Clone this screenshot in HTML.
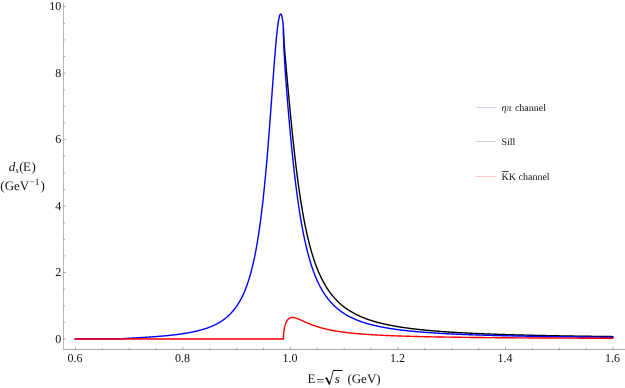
<!DOCTYPE html>
<html><head><meta charset="utf-8"><title>Sill distribution</title>
<style>
html,body{margin:0;padding:0;background:#fff;}
svg{display:block;}
text{font-family:"Liberation Serif",serif;fill:#111;text-rendering:geometricPrecision;}
.tk{font-size:12px;}
.lg{font-size:10px;}
.lb{font-size:13px;}
</style></head><body>
<svg width="625" height="388" viewBox="0 0 625 388">
<rect width="625" height="388" fill="#fff"/>
<defs><filter id="gs" x="0" y="0" width="625" height="388" filterUnits="userSpaceOnUse" color-interpolation-filters="sRGB"><feColorMatrix type="saturate" values="0"/></filter></defs>
<line x1="63.5" y1="3" x2="63.5" y2="350.0" stroke="#000" stroke-opacity="0.28" stroke-width="1"/>
<line x1="64.0" y1="349.5" x2="625" y2="349.5" stroke="#000" stroke-opacity="0.33" stroke-width="1"/>
<line x1="63.5" y1="339.00" x2="65.9" y2="339.00" stroke="#000" stroke-opacity="0.33" stroke-width="1"/>
<line x1="63.5" y1="322.38" x2="65.2" y2="322.38" stroke="#000" stroke-opacity="0.33" stroke-width="1"/>
<line x1="63.5" y1="305.77" x2="65.2" y2="305.77" stroke="#000" stroke-opacity="0.33" stroke-width="1"/>
<line x1="63.5" y1="289.15" x2="65.2" y2="289.15" stroke="#000" stroke-opacity="0.33" stroke-width="1"/>
<line x1="63.5" y1="272.54" x2="65.9" y2="272.54" stroke="#000" stroke-opacity="0.33" stroke-width="1"/>
<line x1="63.5" y1="255.93" x2="65.2" y2="255.93" stroke="#000" stroke-opacity="0.33" stroke-width="1"/>
<line x1="63.5" y1="239.31" x2="65.2" y2="239.31" stroke="#000" stroke-opacity="0.33" stroke-width="1"/>
<line x1="63.5" y1="222.69" x2="65.2" y2="222.69" stroke="#000" stroke-opacity="0.33" stroke-width="1"/>
<line x1="63.5" y1="206.08" x2="65.9" y2="206.08" stroke="#000" stroke-opacity="0.33" stroke-width="1"/>
<line x1="63.5" y1="189.47" x2="65.2" y2="189.47" stroke="#000" stroke-opacity="0.33" stroke-width="1"/>
<line x1="63.5" y1="172.85" x2="65.2" y2="172.85" stroke="#000" stroke-opacity="0.33" stroke-width="1"/>
<line x1="63.5" y1="156.24" x2="65.2" y2="156.24" stroke="#000" stroke-opacity="0.33" stroke-width="1"/>
<line x1="63.5" y1="139.62" x2="65.9" y2="139.62" stroke="#000" stroke-opacity="0.33" stroke-width="1"/>
<line x1="63.5" y1="123.01" x2="65.2" y2="123.01" stroke="#000" stroke-opacity="0.33" stroke-width="1"/>
<line x1="63.5" y1="106.39" x2="65.2" y2="106.39" stroke="#000" stroke-opacity="0.33" stroke-width="1"/>
<line x1="63.5" y1="89.78" x2="65.2" y2="89.78" stroke="#000" stroke-opacity="0.33" stroke-width="1"/>
<line x1="63.5" y1="73.16" x2="65.9" y2="73.16" stroke="#000" stroke-opacity="0.33" stroke-width="1"/>
<line x1="63.5" y1="56.55" x2="65.2" y2="56.55" stroke="#000" stroke-opacity="0.33" stroke-width="1"/>
<line x1="63.5" y1="39.93" x2="65.2" y2="39.93" stroke="#000" stroke-opacity="0.33" stroke-width="1"/>
<line x1="63.5" y1="23.32" x2="65.2" y2="23.32" stroke="#000" stroke-opacity="0.33" stroke-width="1"/>
<line x1="63.5" y1="6.70" x2="65.9" y2="6.70" stroke="#000" stroke-opacity="0.33" stroke-width="1"/>
<line x1="75.40" y1="349.5" x2="75.40" y2="347.1" stroke="#000" stroke-opacity="0.33" stroke-width="1"/>
<line x1="102.28" y1="349.5" x2="102.28" y2="347.8" stroke="#000" stroke-opacity="0.33" stroke-width="1"/>
<line x1="129.16" y1="349.5" x2="129.16" y2="347.8" stroke="#000" stroke-opacity="0.33" stroke-width="1"/>
<line x1="156.04" y1="349.5" x2="156.04" y2="347.8" stroke="#000" stroke-opacity="0.33" stroke-width="1"/>
<line x1="182.92" y1="349.5" x2="182.92" y2="347.1" stroke="#000" stroke-opacity="0.33" stroke-width="1"/>
<line x1="209.80" y1="349.5" x2="209.80" y2="347.8" stroke="#000" stroke-opacity="0.33" stroke-width="1"/>
<line x1="236.68" y1="349.5" x2="236.68" y2="347.8" stroke="#000" stroke-opacity="0.33" stroke-width="1"/>
<line x1="263.56" y1="349.5" x2="263.56" y2="347.8" stroke="#000" stroke-opacity="0.33" stroke-width="1"/>
<line x1="290.44" y1="349.5" x2="290.44" y2="347.1" stroke="#000" stroke-opacity="0.33" stroke-width="1"/>
<line x1="317.32" y1="349.5" x2="317.32" y2="347.8" stroke="#000" stroke-opacity="0.33" stroke-width="1"/>
<line x1="344.20" y1="349.5" x2="344.20" y2="347.8" stroke="#000" stroke-opacity="0.33" stroke-width="1"/>
<line x1="371.08" y1="349.5" x2="371.08" y2="347.8" stroke="#000" stroke-opacity="0.33" stroke-width="1"/>
<line x1="397.96" y1="349.5" x2="397.96" y2="347.1" stroke="#000" stroke-opacity="0.33" stroke-width="1"/>
<line x1="424.84" y1="349.5" x2="424.84" y2="347.8" stroke="#000" stroke-opacity="0.33" stroke-width="1"/>
<line x1="451.72" y1="349.5" x2="451.72" y2="347.8" stroke="#000" stroke-opacity="0.33" stroke-width="1"/>
<line x1="478.60" y1="349.5" x2="478.60" y2="347.8" stroke="#000" stroke-opacity="0.33" stroke-width="1"/>
<line x1="505.48" y1="349.5" x2="505.48" y2="347.1" stroke="#000" stroke-opacity="0.33" stroke-width="1"/>
<line x1="532.36" y1="349.5" x2="532.36" y2="347.8" stroke="#000" stroke-opacity="0.33" stroke-width="1"/>
<line x1="559.24" y1="349.5" x2="559.24" y2="347.8" stroke="#000" stroke-opacity="0.33" stroke-width="1"/>
<line x1="586.12" y1="349.5" x2="586.12" y2="347.8" stroke="#000" stroke-opacity="0.33" stroke-width="1"/>
<line x1="613.00" y1="349.5" x2="613.00" y2="347.1" stroke="#000" stroke-opacity="0.33" stroke-width="1"/>
<path d="M283.45,29.14 L283.50,32.09 L283.53,32.84 L283.56,33.52 L283.61,34.71 L283.67,35.77 L283.72,36.75 L283.77,37.67 L283.83,38.55 L283.88,39.40 L283.94,40.21 L283.98,40.84 L283.99,41.01 L284.04,41.78 L284.10,42.54 L284.15,43.29 L284.21,44.02 L284.26,44.74 L284.31,45.46 L284.37,46.16 L284.42,46.86 L284.43,46.91 L284.48,47.55 L284.53,48.23 L284.59,48.91 L284.64,49.58 L284.69,50.25 L284.75,50.91 L284.80,51.57 L284.86,52.23 L284.88,52.47 L284.91,52.88 L284.96,53.53 L285.02,54.18 L285.07,54.82 L285.13,55.46 L285.18,56.10 L285.23,56.74 L285.29,57.37 L285.32,57.79 L285.34,58.01 L285.40,58.64 L285.45,59.27 L285.50,59.89 L285.56,60.52 L285.61,61.15 L285.67,61.77 L285.72,62.39 L285.77,62.98 L285.77,63.01 L285.83,63.63 L285.88,64.25 L285.94,64.87 L285.99,65.49 L286.04,66.10 L286.10,66.72 L286.15,67.33 L286.21,67.95 L286.22,68.10 L286.26,68.56 L286.31,69.17 L286.37,69.78 L286.42,70.39 L286.48,71.00 L286.53,71.61 L286.58,72.22 L286.64,72.83 L286.67,73.15 L286.69,73.44 L286.75,74.04 L286.80,74.65 L286.85,75.25 L286.91,75.86 L286.96,76.46 L287.02,77.07 L287.07,77.67 L287.11,78.17 L287.12,78.27 L287.18,78.87 L287.23,79.48 L287.29,80.08 L287.34,80.68 L287.39,81.28 L287.45,81.88 L287.50,82.47 L287.56,83.07 L287.56,83.14 L287.61,83.67 L287.66,84.27 L287.72,84.86 L287.77,85.46 L287.83,86.05 L287.88,86.65 L287.93,87.24 L287.99,87.84 L288.01,88.08 L288.04,88.43 L288.10,89.02 L288.15,89.61 L288.20,90.20 L288.26,90.79 L288.31,91.38 L288.37,91.97 L288.42,92.56 L288.46,92.97 L288.47,93.15 L288.53,93.74 L288.58,94.32 L288.64,94.91 L288.69,95.49 L288.74,96.08 L288.80,96.66 L288.85,97.25 L288.91,97.82 L288.91,97.83 L288.96,98.41 L289.01,98.99 L289.07,99.57 L289.12,100.15 L289.18,100.73 L289.23,101.31 L289.28,101.89 L289.34,102.46 L289.35,102.63 L289.39,103.04 L289.45,103.62 L289.50,104.19 L289.55,104.77 L289.61,105.34 L289.66,105.91 L289.72,106.48 L289.77,107.05 L289.80,107.38 L289.82,107.62 L289.88,108.19 L289.93,108.76 L289.99,109.33 L290.04,109.89 L290.10,110.46 L290.15,111.03 L290.20,111.59 L290.25,112.08 L290.26,112.15 L290.31,112.72 L290.37,113.28 L290.42,113.84 L290.47,114.40 L290.53,114.96 L290.58,115.51 L290.64,116.07 L290.69,116.63 L290.70,116.72 L290.74,117.18 L290.80,117.74 L290.85,118.29 L290.91,118.84 L290.96,119.39 L291.01,119.94 L291.07,120.49 L291.12,121.04 L291.15,121.29 L291.18,121.59 L291.23,122.14 L291.28,122.68 L291.34,123.23 L291.39,123.77 L291.45,124.31 L291.50,124.85 L291.55,125.39 L291.59,125.79 L291.61,125.93 L291.66,126.47 L291.72,127.01 L291.77,127.55 L291.82,128.08 L291.88,128.62 L291.93,129.15 L291.99,129.68 L292.04,130.21 L292.04,130.23 L292.09,130.74 L292.15,131.27 L292.20,131.80 L292.26,132.33 L292.31,132.85 L292.36,133.38 L292.42,133.90 L292.47,134.42 L292.49,134.59 L292.53,134.94 L292.58,135.46 L292.63,135.98 L292.69,136.50 L292.74,137.02 L292.80,137.53 L292.85,138.05 L292.90,138.56 L292.94,138.88 L292.96,139.07 L293.01,139.59 L293.07,140.10 L293.12,140.61 L293.17,141.11 L293.23,141.62 L293.28,142.13 L293.34,142.63 L293.39,143.09 L293.39,143.13 L293.44,143.64 L293.50,144.14 L293.55,144.64 L293.61,145.13 L293.66,145.63 L293.71,146.13 L293.77,146.62 L293.82,147.12 L293.83,147.22 L293.88,147.61 L293.93,148.10 L293.98,148.59 L294.04,149.08 L294.09,149.57 L294.15,150.06 L294.20,150.54 L294.28,151.27 L294.73,155.23 L295.18,159.12 L295.62,162.92 L296.07,166.64 L296.52,170.28 L296.97,173.83 L297.42,177.30 L297.86,180.69 L298.31,184.00 L298.76,187.23 L299.21,190.38 L299.66,193.46 L300.10,196.46 L300.55,199.38 L301.00,202.23 L301.45,205.01 L301.90,207.72 L302.34,210.36 L302.79,212.94 L303.24,215.44 L303.69,217.89 L304.14,220.27 L304.58,222.59 L305.03,224.85 L305.48,227.05 L305.93,229.20 L306.38,231.29 L306.82,233.33 L307.27,235.32 L307.72,237.25 L308.17,239.14 L308.61,240.98 L309.06,242.77 L309.51,244.51 L309.96,246.22 L310.41,247.88 L310.85,249.50 L311.30,251.08 L311.75,252.62 L312.20,254.12 L312.65,255.58 L313.09,257.01 L313.54,258.41 L313.99,259.77 L314.44,261.09 L314.89,262.39 L315.33,263.65 L315.78,264.89 L316.23,266.10 L316.68,267.27 L317.12,268.42 L317.57,269.55 L318.02,270.64 L318.47,271.71 L318.92,272.76 L319.36,273.78 L319.81,274.78 L320.26,275.76 L320.71,276.72 L321.16,277.65 L321.60,278.56 L322.05,279.46 L322.50,280.33 L322.95,281.19 L323.40,282.02 L323.84,282.84 L324.29,283.64 L324.74,284.43 L325.19,285.19 L325.64,285.94 L326.08,286.68 L326.53,287.40 L326.98,288.10 L327.43,288.79 L327.88,289.47 L328.32,290.13 L328.77,290.78 L329.22,291.42 L329.67,292.04 L330.11,292.65 L330.56,293.25 L331.01,293.84 L331.46,294.42 L331.91,294.98 L332.35,295.53 L332.80,296.08 L333.25,296.61 L333.70,297.13 L334.15,297.65 L334.59,298.15 L335.04,298.64 L335.49,299.13 L335.94,299.60 L336.39,300.07 L336.83,300.53 L337.28,300.98 L337.73,301.42 L338.18,301.86 L338.63,302.28 L339.07,302.70 L339.52,303.11 L339.97,303.52 L340.42,303.91 L340.86,304.30 L341.31,304.69 L341.76,305.06 L342.21,305.43 L342.66,305.80 L343.10,306.16 L343.55,306.51 L344.00,306.86 L344.45,307.20 L344.90,307.53 L345.34,307.86 L345.79,308.18 L346.24,308.50 L346.69,308.82 L347.14,309.13 L347.58,309.43 L348.03,309.73 L348.48,310.02 L348.93,310.31 L349.37,310.60 L349.82,310.88 L350.27,311.15 L350.72,311.43 L351.17,311.69 L351.61,311.96 L352.06,312.22 L352.51,312.47 L352.96,312.72 L353.41,312.97 L353.85,313.22 L354.30,313.46 L354.75,313.70 L355.20,313.93 L355.65,314.16 L356.09,314.39 L356.54,314.61 L356.99,314.83 L357.44,315.05 L357.89,315.26 L358.33,315.47 L358.78,315.68 L359.23,315.89 L359.68,316.09 L360.12,316.29 L360.57,316.49 L361.02,316.68 L361.47,316.87 L361.92,317.06 L362.36,317.25 L362.81,317.43 L363.26,317.61 L363.71,317.79 L364.16,317.97 L364.60,318.14 L365.05,318.32 L365.50,318.49 L365.95,318.65 L366.40,318.82 L366.84,318.98 L367.29,319.14 L367.74,319.30 L368.19,319.46 L368.64,319.62 L369.08,319.77 L369.53,319.92 L369.98,320.07 L370.43,320.22 L370.87,320.36 L371.32,320.51 L371.77,320.65 L372.22,320.79 L372.67,320.93 L373.11,321.06 L373.56,321.20 L374.01,321.33 L374.46,321.46 L374.91,321.59 L375.35,321.72 L375.80,321.85 L376.25,321.98 L376.70,322.10 L377.15,322.22 L377.59,322.34 L378.04,322.46 L378.49,322.58 L378.94,322.70 L379.39,322.82 L379.83,322.93 L380.28,323.04 L380.73,323.16 L381.18,323.27 L381.62,323.38 L382.07,323.48 L382.52,323.59 L382.97,323.70 L383.42,323.80 L383.86,323.91 L384.31,324.01 L384.76,324.11 L385.21,324.21 L385.66,324.31 L386.10,324.41 L386.55,324.50 L387.00,324.60 L387.45,324.70 L387.90,324.79 L388.34,324.88 L388.79,324.97 L389.24,325.06 L389.69,325.15 L390.14,325.24 L390.58,325.33 L391.03,325.42 L391.48,325.51 L391.93,325.59 L392.38,325.68 L392.82,325.76 L393.27,325.84 L393.72,325.92 L394.17,326.01 L394.61,326.09 L395.06,326.17 L395.51,326.24 L395.96,326.32 L396.41,326.40 L396.85,326.48 L397.30,326.55 L397.75,326.63 L398.20,326.70 L398.65,326.77 L399.09,326.85 L399.54,326.92 L399.99,326.99 L400.44,327.06 L400.89,327.13 L401.33,327.20 L401.78,327.27 L402.23,327.34 L402.68,327.41 L403.12,327.47 L403.57,327.54 L404.02,327.60 L404.47,327.67 L404.92,327.73 L405.36,327.80 L405.81,327.86 L406.26,327.92 L406.71,327.98 L407.16,328.05 L407.60,328.11 L408.05,328.17 L408.50,328.23 L408.95,328.29 L409.40,328.35 L409.84,328.40 L410.29,328.46 L410.74,328.52 L411.19,328.58 L411.64,328.63 L412.08,328.69 L412.53,328.74 L412.98,328.80 L413.43,328.85 L413.88,328.91 L414.32,328.96 L414.77,329.01 L415.22,329.06 L415.67,329.12 L416.11,329.17 L416.56,329.22 L417.01,329.27 L417.46,329.32 L417.91,329.37 L418.35,329.42 L418.80,329.47 L419.25,329.52 L419.70,329.56 L420.15,329.61 L420.59,329.66 L421.04,329.71 L421.49,329.75 L421.94,329.80 L422.39,329.84 L422.83,329.89 L423.28,329.94 L423.73,329.98 L424.18,330.02 L424.62,330.07 L425.07,330.11 L425.52,330.16 L425.97,330.20 L426.42,330.24 L426.86,330.28 L427.31,330.33 L427.76,330.37 L428.21,330.41 L428.66,330.45 L429.10,330.49 L429.55,330.53 L430.00,330.57 L430.45,330.61 L430.90,330.65 L431.34,330.69 L431.79,330.73 L432.24,330.77 L432.69,330.80 L433.14,330.84 L433.58,330.88 L434.03,330.92 L434.48,330.95 L434.93,330.99 L435.38,331.03 L435.82,331.06 L436.27,331.10 L436.72,331.13 L437.17,331.17 L437.61,331.21 L438.06,331.24 L438.51,331.28 L438.96,331.31 L439.41,331.34 L439.85,331.38 L440.30,331.41 L440.75,331.44 L441.20,331.48 L441.65,331.51 L442.09,331.54 L442.54,331.58 L442.99,331.61 L443.44,331.64 L443.89,331.67 L444.33,331.70 L444.78,331.73 L445.23,331.77 L445.68,331.80 L446.13,331.83 L446.57,331.86 L447.02,331.89 L447.47,331.92 L447.92,331.95 L448.36,331.98 L448.81,332.01 L449.26,332.04 L449.71,332.07 L450.16,332.09 L450.60,332.12 L451.05,332.15 L451.50,332.18 L451.95,332.21 L452.40,332.24 L452.84,332.26 L453.29,332.29 L453.74,332.32 L454.19,332.35 L454.64,332.37 L455.08,332.40 L455.53,332.43 L455.98,332.45 L456.43,332.48 L456.88,332.50 L457.32,332.53 L457.77,332.56 L458.22,332.58 L458.67,332.61 L459.11,332.63 L459.56,332.66 L460.01,332.68 L460.46,332.71 L460.91,332.73 L461.35,332.76 L461.80,332.78 L462.25,332.80 L462.70,332.83 L463.15,332.85 L463.59,332.88 L464.04,332.90 L464.49,332.92 L464.94,332.95 L465.39,332.97 L465.83,332.99 L466.28,333.01 L466.73,333.04 L467.18,333.06 L467.63,333.08 L468.07,333.10 L468.52,333.13 L468.97,333.15 L469.42,333.17 L469.86,333.19 L470.31,333.21 L470.76,333.23 L471.21,333.26 L471.66,333.28 L472.10,333.30 L472.55,333.32 L473.00,333.34 L473.45,333.36 L473.90,333.38 L474.34,333.40 L474.79,333.42 L475.24,333.44 L475.69,333.46 L476.14,333.48 L476.58,333.50 L477.03,333.52 L477.48,333.54 L477.93,333.56 L478.38,333.58 L478.82,333.60 L479.27,333.62 L479.72,333.64 L480.17,333.65 L480.61,333.67 L481.06,333.69 L481.51,333.71 L481.96,333.73 L482.41,333.75 L482.85,333.77 L483.30,333.78 L483.75,333.80 L484.20,333.82 L484.65,333.84 L485.09,333.86 L485.54,333.87 L485.99,333.89 L486.44,333.91 L486.89,333.93 L487.33,333.94 L487.78,333.96 L488.23,333.98 L488.68,333.99 L489.13,334.01 L489.57,334.03 L490.02,334.04 L490.47,334.06 L490.92,334.08 L491.36,334.09 L491.81,334.11 L492.26,334.13 L492.71,334.14 L493.16,334.16 L493.60,334.17 L494.05,334.19 L494.50,334.21 L494.95,334.22 L495.40,334.24 L495.84,334.25 L496.29,334.27 L496.74,334.28 L497.19,334.30 L497.64,334.31 L498.08,334.33 L498.53,334.34 L498.98,334.36 L499.43,334.37 L499.88,334.39 L500.32,334.40 L500.77,334.42 L501.22,334.43 L501.67,334.45 L502.11,334.46 L502.56,334.48 L503.01,334.49 L503.46,334.50 L503.91,334.52 L504.35,334.53 L504.80,334.55 L505.25,334.56 L505.70,334.57 L506.15,334.59 L506.59,334.60 L507.04,334.61 L507.49,334.63 L507.94,334.64 L508.39,334.66 L508.83,334.67 L509.28,334.68 L509.73,334.69 L510.18,334.71 L510.63,334.72 L511.07,334.73 L511.52,334.75 L511.97,334.76 L512.42,334.77 L512.86,334.79 L513.31,334.80 L513.76,334.81 L514.21,334.82 L514.66,334.84 L515.10,334.85 L515.55,334.86 L516.00,334.87 L516.45,334.89 L516.90,334.90 L517.34,334.91 L517.79,334.92 L518.24,334.93 L518.69,334.95 L519.14,334.96 L519.58,334.97 L520.03,334.98 L520.48,334.99 L520.93,335.00 L521.38,335.02 L521.82,335.03 L522.27,335.04 L522.72,335.05 L523.17,335.06 L523.61,335.07 L524.06,335.08 L524.51,335.10 L524.96,335.11 L525.41,335.12 L525.85,335.13 L526.30,335.14 L526.75,335.15 L527.20,335.16 L527.65,335.17 L528.09,335.18 L528.54,335.19 L528.99,335.20 L529.44,335.22 L529.89,335.23 L530.33,335.24 L530.78,335.25 L531.23,335.26 L531.68,335.27 L532.13,335.28 L532.57,335.29 L533.02,335.30 L533.47,335.31 L533.92,335.32 L534.36,335.33 L534.81,335.34 L535.26,335.35 L535.71,335.36 L536.16,335.37 L536.60,335.38 L537.05,335.39 L537.50,335.40 L537.95,335.41 L538.40,335.42 L538.84,335.43 L539.29,335.44 L539.74,335.45 L540.19,335.46 L540.64,335.47 L541.08,335.48 L541.53,335.49 L541.98,335.50 L542.43,335.50 L542.88,335.51 L543.32,335.52 L543.77,335.53 L544.22,335.54 L544.67,335.55 L545.11,335.56 L545.56,335.57 L546.01,335.58 L546.46,335.59 L546.91,335.60 L547.35,335.60 L547.80,335.61 L548.25,335.62 L548.70,335.63 L549.15,335.64 L549.59,335.65 L550.04,335.66 L550.49,335.67 L550.94,335.67 L551.39,335.68 L551.83,335.69 L552.28,335.70 L552.73,335.71 L553.18,335.72 L553.62,335.73 L554.07,335.73 L554.52,335.74 L554.97,335.75 L555.42,335.76 L555.86,335.77 L556.31,335.77 L556.76,335.78 L557.21,335.79 L557.66,335.80 L558.10,335.81 L558.55,335.82 L559.00,335.82 L559.45,335.83 L559.90,335.84 L560.34,335.85 L560.79,335.85 L561.24,335.86 L561.69,335.87 L562.14,335.88 L562.58,335.89 L563.03,335.89 L563.48,335.90 L563.93,335.91 L564.38,335.92 L564.82,335.92 L565.27,335.93 L565.72,335.94 L566.17,335.95 L566.61,335.95 L567.06,335.96 L567.51,335.97 L567.96,335.98 L568.41,335.98 L568.85,335.99 L569.30,336.00 L569.75,336.01 L570.20,336.01 L570.65,336.02 L571.09,336.03 L571.54,336.03 L571.99,336.04 L572.44,336.05 L572.89,336.05 L573.33,336.06 L573.78,336.07 L574.23,336.08 L574.68,336.08 L575.12,336.09 L575.57,336.10 L576.02,336.10 L576.47,336.11 L576.92,336.12 L577.36,336.12 L577.81,336.13 L578.26,336.14 L578.71,336.14 L579.16,336.15 L579.60,336.16 L580.05,336.16 L580.50,336.17 L580.95,336.18 L581.40,336.18 L581.84,336.19 L582.29,336.20 L582.74,336.20 L583.19,336.21 L583.64,336.22 L584.08,336.22 L584.53,336.23 L584.98,336.23 L585.43,336.24 L585.88,336.25 L586.32,336.25 L586.77,336.26 L587.22,336.27 L587.67,336.27 L588.11,336.28 L588.56,336.28 L589.01,336.29 L589.46,336.30 L589.91,336.30 L590.35,336.31 L590.80,336.32 L591.25,336.32 L591.70,336.33 L592.15,336.33 L592.59,336.34 L593.04,336.35 L593.49,336.35 L593.94,336.36 L594.39,336.36 L594.83,336.37 L595.28,336.37 L595.73,336.38 L596.18,336.39 L596.62,336.39 L597.07,336.40 L597.52,336.40 L597.97,336.41 L598.42,336.41 L598.86,336.42 L599.31,336.43 L599.76,336.43 L600.21,336.44 L600.66,336.44 L601.10,336.45 L601.55,336.45 L602.00,336.46 L602.45,336.46 L602.90,336.47 L603.34,336.48 L603.79,336.48 L604.24,336.49 L604.69,336.49 L605.14,336.50 L605.58,336.50 L606.03,336.51 L606.48,336.51 L606.93,336.52 L607.38,336.52 L607.82,336.53 L608.27,336.53 L608.72,336.54 L609.17,336.54 L609.61,336.55 L610.06,336.56 L610.51,336.56 L610.96,336.57 L611.41,336.57 L611.85,336.58 L612.30,336.58 L612.75,336.59" fill="none" stroke="#000" stroke-width="1.4" stroke-linejoin="round" stroke-linecap="square"/>
<path d="M75.25,339.00 L75.70,339.00 L76.15,339.00 L76.59,339.00 L77.04,339.00 L77.49,339.00 L77.94,339.00 L78.39,339.00 L78.83,339.00 L79.28,339.00 L79.73,339.00 L80.18,339.00 L80.62,339.00 L81.07,339.00 L81.52,339.00 L81.97,339.00 L82.42,339.00 L82.86,339.00 L83.31,339.00 L83.76,339.00 L84.21,339.00 L84.66,339.00 L85.10,339.00 L85.55,339.00 L86.00,339.00 L86.45,339.00 L86.90,339.00 L87.34,339.00 L87.79,339.00 L88.24,339.00 L88.69,339.00 L89.14,339.00 L89.58,339.00 L90.03,339.00 L90.48,339.00 L90.93,339.00 L91.38,339.00 L91.82,339.00 L92.27,339.00 L92.72,339.00 L93.17,339.00 L93.61,339.00 L94.06,339.00 L94.51,339.00 L94.96,339.00 L95.41,339.00 L95.85,339.00 L96.30,339.00 L96.75,339.00 L97.20,339.00 L97.65,339.00 L98.09,339.00 L98.54,339.00 L98.99,339.00 L99.44,339.00 L99.89,339.00 L100.33,339.00 L100.78,339.00 L101.23,339.00 L101.68,339.00 L102.13,339.00 L102.57,339.00 L103.02,339.00 L103.47,339.00 L103.92,339.00 L104.36,339.00 L104.81,339.00 L105.26,339.00 L105.71,339.00 L106.16,339.00 L106.60,339.00 L107.05,339.00 L107.50,339.00 L107.95,339.00 L108.40,339.00 L108.84,339.00 L109.29,339.00 L109.74,339.00 L110.19,339.00 L110.64,339.00 L111.08,339.00 L111.53,339.00 L111.98,339.00 L112.43,339.00 L112.87,339.00 L113.32,339.00 L113.77,339.00 L114.22,339.00 L114.67,339.00 L115.11,339.00 L115.56,339.00 L116.01,339.00 L116.46,339.00 L116.91,339.00 L117.35,339.00 L117.80,339.00 L118.25,339.00 L118.70,339.00 L119.15,339.00 L119.59,339.00 L120.04,339.00 L120.49,339.00 L120.94,339.00 L121.39,339.00 L121.48,339.00 L121.66,338.89 L121.83,338.85 L121.84,338.85 L122.02,338.82 L122.20,338.79 L122.28,338.78 L122.39,338.76 L122.57,338.74 L122.73,338.72 L122.75,338.72 L122.93,338.70 L123.11,338.68 L123.18,338.67 L123.30,338.66 L123.48,338.64 L123.62,338.63 L123.66,338.62 L123.84,338.61 L124.03,338.59 L124.07,338.59 L124.21,338.58 L124.39,338.56 L124.52,338.55 L124.57,338.55 L124.75,338.53 L124.94,338.52 L124.97,338.51 L125.12,338.50 L125.30,338.49 L125.42,338.48 L125.48,338.48 L125.67,338.46 L125.85,338.45 L125.86,338.45 L126.03,338.44 L126.21,338.43 L126.31,338.42 L126.39,338.41 L126.58,338.40 L126.76,338.39 L126.76,338.39 L126.94,338.38 L127.12,338.36 L127.21,338.36 L127.31,338.35 L127.49,338.34 L127.66,338.33 L127.67,338.33 L127.85,338.32 L128.03,338.31 L128.10,338.30 L128.22,338.29 L128.40,338.28 L128.55,338.27 L128.58,338.27 L128.76,338.26 L128.95,338.25 L129.00,338.25 L129.13,338.24 L129.31,338.23 L129.45,338.22 L129.49,338.22 L129.67,338.21 L129.86,338.20 L129.90,338.19 L130.04,338.18 L130.22,338.17 L130.34,338.17 L130.40,338.16 L130.59,338.15 L130.77,338.14 L130.79,338.14 L130.95,338.13 L131.13,338.12 L131.24,338.11 L131.31,338.11 L131.50,338.10 L131.68,338.09 L131.69,338.09 L131.86,338.08 L132.04,338.07 L132.14,338.06 L132.23,338.06 L132.58,338.04 L133.03,338.01 L133.48,337.99 L133.93,337.96 L134.38,337.94 L134.82,337.91 L135.27,337.89 L135.72,337.86 L136.17,337.83 L136.61,337.81 L137.06,337.78 L137.51,337.76 L137.96,337.73 L138.41,337.71 L138.85,337.68 L139.30,337.66 L139.75,337.63 L140.20,337.60 L140.65,337.58 L141.09,337.55 L141.54,337.53 L141.99,337.50 L142.44,337.47 L142.89,337.45 L143.33,337.42 L143.78,337.39 L144.23,337.36 L144.68,337.34 L145.12,337.31 L145.57,337.28 L146.02,337.25 L146.47,337.23 L146.92,337.20 L147.36,337.17 L147.81,337.14 L148.26,337.11 L148.71,337.08 L149.16,337.05 L149.60,337.02 L150.05,336.99 L150.50,336.96 L150.95,336.93 L151.40,336.90 L151.84,336.87 L152.29,336.84 L152.74,336.81 L153.19,336.78 L153.64,336.75 L154.08,336.71 L154.53,336.68 L154.98,336.65 L155.43,336.62 L155.88,336.58 L156.32,336.55 L156.77,336.51 L157.22,336.48 L157.67,336.44 L158.11,336.41 L158.56,336.37 L159.01,336.34 L159.46,336.30 L159.91,336.27 L160.35,336.23 L160.80,336.19 L161.25,336.15 L161.70,336.12 L162.15,336.08 L162.59,336.04 L163.04,336.00 L163.49,335.96 L163.94,335.92 L164.39,335.88 L164.83,335.84 L165.28,335.80 L165.73,335.75 L166.18,335.71 L166.63,335.67 L167.07,335.63 L167.52,335.58 L167.97,335.54 L168.42,335.49 L168.86,335.45 L169.31,335.40 L169.76,335.35 L170.21,335.31 L170.66,335.26 L171.10,335.21 L171.55,335.16 L172.00,335.11 L172.45,335.06 L172.90,335.01 L173.34,334.96 L173.79,334.91 L174.24,334.86 L174.69,334.80 L175.14,334.75 L175.58,334.70 L176.03,334.64 L176.48,334.59 L176.93,334.53 L177.38,334.47 L177.82,334.41 L178.27,334.36 L178.72,334.30 L179.17,334.24 L179.61,334.17 L180.06,334.11 L180.51,334.05 L180.96,333.99 L181.41,333.92 L181.85,333.86 L182.30,333.79 L182.75,333.72 L183.20,333.66 L183.65,333.59 L184.09,333.52 L184.54,333.45 L184.99,333.37 L185.44,333.30 L185.89,333.23 L186.33,333.15 L186.78,333.08 L187.23,333.00 L187.68,332.92 L188.13,332.84 L188.57,332.76 L189.02,332.68 L189.47,332.60 L189.92,332.51 L190.36,332.43 L190.81,332.34 L191.26,332.25 L191.71,332.17 L192.16,332.08 L192.60,331.98 L193.05,331.89 L193.50,331.80 L193.95,331.70 L194.40,331.60 L194.84,331.50 L195.29,331.40 L195.74,331.30 L196.19,331.20 L196.64,331.09 L197.08,330.98 L197.53,330.88 L197.98,330.76 L198.43,330.65 L198.88,330.54 L199.32,330.42 L199.77,330.30 L200.22,330.18 L200.67,330.06 L201.11,329.94 L201.56,329.81 L202.01,329.68 L202.46,329.55 L202.91,329.42 L203.35,329.29 L203.80,329.15 L204.25,329.01 L204.70,328.87 L205.15,328.73 L205.59,328.58 L206.04,328.43 L206.49,328.28 L206.94,328.12 L207.39,327.97 L207.83,327.81 L208.28,327.64 L208.73,327.48 L209.18,327.31 L209.62,327.14 L210.07,326.96 L210.52,326.78 L210.97,326.60 L211.42,326.41 L211.86,326.23 L212.31,326.03 L212.76,325.84 L213.21,325.64 L213.66,325.43 L214.10,325.23 L214.55,325.01 L215.00,324.80 L215.45,324.58 L215.90,324.35 L216.34,324.13 L216.79,323.89 L217.24,323.65 L217.69,323.41 L218.14,323.16 L218.58,322.91 L219.03,322.65 L219.48,322.39 L219.93,322.12 L220.38,321.84 L220.82,321.56 L221.27,321.28 L221.72,320.98 L222.17,320.69 L222.61,320.38 L223.06,320.07 L223.51,319.75 L223.96,319.42 L224.41,319.09 L224.85,318.75 L225.30,318.40 L225.75,318.05 L226.20,317.68 L226.65,317.31 L227.09,316.93 L227.54,316.54 L227.99,316.14 L228.44,315.73 L228.89,315.31 L229.33,314.89 L229.78,314.45 L230.23,314.00 L230.68,313.54 L231.13,313.07 L231.57,312.59 L232.02,312.09 L232.47,311.59 L232.92,311.07 L233.36,310.54 L233.81,309.99 L234.26,309.43 L234.71,308.86 L235.16,308.27 L235.60,307.66 L236.05,307.04 L236.50,306.41 L236.95,305.75 L237.40,305.08 L237.84,304.39 L238.29,303.69 L238.74,302.96 L239.19,302.21 L239.64,301.44 L240.08,300.65 L240.53,299.84 L240.98,299.01 L241.43,298.15 L241.87,297.27 L242.32,296.36 L242.77,295.43 L243.22,294.46 L243.67,293.47 L244.11,292.45 L244.56,291.40 L245.01,290.32 L245.46,289.21 L245.91,288.06 L246.35,286.88 L246.80,285.66 L247.25,284.40 L247.70,283.10 L248.15,281.76 L248.59,280.38 L249.04,278.96 L249.49,277.49 L249.94,275.97 L250.39,274.41 L250.83,272.79 L251.28,271.12 L251.73,269.39 L252.18,267.61 L252.62,265.77 L253.07,263.87 L253.52,261.90 L253.97,259.86 L254.42,257.76 L254.86,255.59 L255.31,253.34 L255.76,251.01 L256.21,248.61 L256.66,246.12 L257.10,243.55 L257.55,240.89 L258.00,238.14 L258.45,235.29 L258.90,232.34 L259.34,229.29 L259.79,226.14 L260.24,222.88 L260.69,219.51 L261.14,216.03 L261.58,212.42 L262.03,208.70 L262.48,204.86 L262.93,200.88 L263.38,196.78 L263.82,192.55 L264.27,188.19 L264.72,183.69 L265.17,179.06 L265.61,174.30 L266.06,169.39 L266.51,164.36 L266.96,159.19 L267.41,153.89 L267.85,148.47 L268.30,142.92 L268.75,137.27 L269.20,131.50 L269.65,125.64 L270.09,119.69 L270.54,113.67 L270.99,107.59 L271.44,101.47 L271.89,95.34 L272.33,89.20 L272.78,83.08 L273.23,77.02 L273.68,71.03 L274.12,65.16 L274.57,59.42 L275.02,53.86 L275.47,48.52 L275.92,43.42 L276.36,38.61 L276.81,34.12 L277.26,29.99 L277.71,26.27 L278.16,22.97 L278.60,20.15 L279.05,17.82 L279.50,16.02 L279.95,14.78 L280.40,14.11 L280.84,14.05 L281.29,14.60 L281.74,15.81 L282.19,17.69 L282.64,20.34 L283.08,23.94 L283.45,29.14 L283.50,34.84 L283.53,36.19 L283.56,37.39 L283.61,39.41 L283.67,41.17 L283.72,42.75 L283.77,44.21 L283.83,45.58 L283.88,46.87 L283.94,48.11 L283.98,49.04 L283.99,49.29 L284.04,50.44 L284.10,51.55 L284.15,52.62 L284.21,53.67 L284.26,54.69 L284.31,55.69 L284.37,56.68 L284.42,57.64 L284.43,57.71 L284.48,58.58 L284.53,59.51 L284.59,60.43 L284.64,61.33 L284.69,62.23 L284.75,63.11 L284.80,63.98 L284.86,64.84 L284.88,65.15 L284.91,65.69 L284.96,66.53 L285.02,67.36 L285.07,68.19 L285.13,69.01 L285.18,69.82 L285.23,70.63 L285.29,71.43 L285.32,71.95 L285.34,72.22 L285.40,73.01 L285.45,73.79 L285.50,74.57 L285.56,75.34 L285.61,76.11 L285.67,76.87 L285.72,77.63 L285.77,78.35 L285.77,78.38 L285.83,79.13 L285.88,79.88 L285.94,80.62 L285.99,81.36 L286.04,82.10 L286.10,82.83 L286.15,83.56 L286.21,84.28 L286.22,84.46 L286.26,85.01 L286.31,85.73 L286.37,86.44 L286.42,87.16 L286.48,87.87 L286.53,88.58 L286.58,89.28 L286.64,89.98 L286.67,90.36 L286.69,90.68 L286.75,91.38 L286.80,92.08 L286.85,92.77 L286.91,93.46 L286.96,94.15 L287.02,94.84 L287.07,95.52 L287.11,96.08 L287.12,96.20 L287.18,96.88 L287.23,97.56 L287.29,98.24 L287.34,98.91 L287.39,99.58 L287.45,100.25 L287.50,100.92 L287.56,101.58 L287.56,101.66 L287.61,102.25 L287.66,102.91 L287.72,103.57 L287.77,104.23 L287.83,104.88 L287.88,105.54 L287.93,106.19 L287.99,106.84 L288.01,107.10 L288.04,107.49 L288.10,108.14 L288.15,108.78 L288.20,109.42 L288.26,110.07 L288.31,110.71 L288.37,111.35 L288.42,111.98 L288.46,112.43 L288.47,112.62 L288.53,113.25 L288.58,113.88 L288.64,114.51 L288.69,115.14 L288.74,115.77 L288.80,116.40 L288.85,117.02 L288.91,117.64 L288.91,117.64 L288.96,118.26 L289.01,118.88 L289.07,119.50 L289.12,120.11 L289.18,120.73 L289.23,121.34 L289.28,121.95 L289.34,122.56 L289.35,122.74 L289.39,123.17 L289.45,123.78 L289.50,124.38 L289.55,124.99 L289.61,125.59 L289.66,126.19 L289.72,126.79 L289.77,127.38 L289.80,127.73 L289.82,127.98 L289.88,128.57 L289.93,129.17 L289.99,129.76 L290.04,130.35 L290.10,130.94 L290.15,131.52 L290.20,132.11 L290.25,132.62 L290.26,132.69 L290.31,133.27 L290.37,133.86 L290.42,134.43 L290.47,135.01 L290.53,135.59 L290.58,136.16 L290.64,136.74 L290.69,137.31 L290.70,137.40 L290.74,137.88 L290.80,138.45 L290.85,139.01 L290.91,139.58 L290.96,140.14 L291.01,140.71 L291.07,141.27 L291.12,141.83 L291.15,142.08 L291.18,142.38 L291.23,142.94 L291.28,143.50 L291.34,144.05 L291.39,144.60 L291.45,145.15 L291.50,145.70 L291.55,146.25 L291.59,146.66 L291.61,146.80 L291.66,147.34 L291.72,147.88 L291.77,148.43 L291.82,148.97 L291.88,149.50 L291.93,150.04 L291.99,150.58 L292.04,151.11 L292.04,151.13 L292.09,151.64 L292.15,152.18 L292.20,152.71 L292.26,153.23 L292.31,153.76 L292.36,154.29 L292.42,154.81 L292.47,155.33 L292.49,155.50 L292.53,155.85 L292.58,156.37 L292.63,156.89 L292.69,157.41 L292.74,157.92 L292.80,158.44 L292.85,158.95 L292.90,159.46 L292.94,159.77 L292.96,159.97 L293.01,160.48 L293.07,160.98 L293.12,161.49 L293.17,161.99 L293.23,162.49 L293.28,162.99 L293.34,163.49 L293.39,163.95 L293.39,163.99 L293.44,164.49 L293.50,164.98 L293.55,165.47 L293.61,165.97 L293.66,166.46 L293.71,166.95 L293.77,167.43 L293.82,167.92 L293.83,168.02 L293.88,168.40 L293.93,168.89 L293.98,169.37 L294.04,169.85 L294.09,170.33 L294.15,170.80 L294.20,171.28 L294.28,171.99 L294.73,175.86 L295.18,179.64 L295.62,183.32 L296.07,186.90 L296.52,190.40 L296.97,193.80 L297.42,197.11 L297.86,200.33 L298.31,203.47 L298.76,206.52 L299.21,209.49 L299.66,212.38 L300.10,215.19 L300.55,217.92 L301.00,220.57 L301.45,223.16 L301.90,225.67 L302.34,228.11 L302.79,230.49 L303.24,232.80 L303.69,235.04 L304.14,237.23 L304.58,239.35 L305.03,241.42 L305.48,243.43 L305.93,245.38 L306.38,247.28 L306.82,249.13 L307.27,250.93 L307.72,252.68 L308.17,254.38 L308.61,256.04 L309.06,257.65 L309.51,259.22 L309.96,260.74 L310.41,262.23 L310.85,263.68 L311.30,265.09 L311.75,266.46 L312.20,267.80 L312.65,269.10 L313.09,270.37 L313.54,271.61 L313.99,272.81 L314.44,273.99 L314.89,275.13 L315.33,276.25 L315.78,277.33 L316.23,278.40 L316.68,279.43 L317.12,280.44 L317.57,281.43 L318.02,282.39 L318.47,283.32 L318.92,284.24 L319.36,285.13 L319.81,286.01 L320.26,286.86 L320.71,287.69 L321.16,288.50 L321.60,289.30 L322.05,290.07 L322.50,290.83 L322.95,291.57 L323.40,292.29 L323.84,293.00 L324.29,293.69 L324.74,294.37 L325.19,295.03 L325.64,295.68 L326.08,296.31 L326.53,296.93 L326.98,297.54 L327.43,298.13 L327.88,298.71 L328.32,299.28 L328.77,299.83 L329.22,300.38 L329.67,300.91 L330.11,301.43 L330.56,301.95 L331.01,302.45 L331.46,302.94 L331.91,303.42 L332.35,303.89 L332.80,304.35 L333.25,304.80 L333.70,305.25 L334.15,305.68 L334.59,306.11 L335.04,306.53 L335.49,306.94 L335.94,307.34 L336.39,307.73 L336.83,308.12 L337.28,308.50 L337.73,308.87 L338.18,309.24 L338.63,309.60 L339.07,309.95 L339.52,310.30 L339.97,310.64 L340.42,310.97 L340.86,311.30 L341.31,311.62 L341.76,311.94 L342.21,312.25 L342.66,312.55 L343.10,312.85 L343.55,313.15 L344.00,313.44 L344.45,313.72 L344.90,314.00 L345.34,314.28 L345.79,314.55 L346.24,314.81 L346.69,315.07 L347.14,315.33 L347.58,315.58 L348.03,315.83 L348.48,316.08 L348.93,316.32 L349.37,316.55 L349.82,316.79 L350.27,317.02 L350.72,317.24 L351.17,317.46 L351.61,317.68 L352.06,317.90 L352.51,318.11 L352.96,318.32 L353.41,318.52 L353.85,318.72 L354.30,318.92 L354.75,319.12 L355.20,319.31 L355.65,319.50 L356.09,319.69 L356.54,319.87 L356.99,320.05 L357.44,320.23 L357.89,320.41 L358.33,320.58 L358.78,320.75 L359.23,320.92 L359.68,321.09 L360.12,321.25 L360.57,321.41 L361.02,321.57 L361.47,321.73 L361.92,321.88 L362.36,322.04 L362.81,322.19 L363.26,322.33 L363.71,322.48 L364.16,322.63 L364.60,322.77 L365.05,322.91 L365.50,323.05 L365.95,323.18 L366.40,323.32 L366.84,323.45 L367.29,323.58 L367.74,323.71 L368.19,323.84 L368.64,323.96 L369.08,324.09 L369.53,324.21 L369.98,324.33 L370.43,324.45 L370.87,324.57 L371.32,324.69 L371.77,324.80 L372.22,324.92 L372.67,325.03 L373.11,325.14 L373.56,325.25 L374.01,325.36 L374.46,325.46 L374.91,325.57 L375.35,325.67 L375.80,325.78 L376.25,325.88 L376.70,325.98 L377.15,326.08 L377.59,326.17 L378.04,326.27 L378.49,326.37 L378.94,326.46 L379.39,326.55 L379.83,326.65 L380.28,326.74 L380.73,326.83 L381.18,326.92 L381.62,327.00 L382.07,327.09 L382.52,327.18 L382.97,327.26 L383.42,327.35 L383.86,327.43 L384.31,327.51 L384.76,327.59 L385.21,327.67 L385.66,327.75 L386.10,327.83 L386.55,327.91 L387.00,327.99 L387.45,328.06 L387.90,328.14 L388.34,328.21 L388.79,328.28 L389.24,328.36 L389.69,328.43 L390.14,328.50 L390.58,328.57 L391.03,328.64 L391.48,328.71 L391.93,328.78 L392.38,328.84 L392.82,328.91 L393.27,328.98 L393.72,329.04 L394.17,329.11 L394.61,329.17 L395.06,329.23 L395.51,329.30 L395.96,329.36 L396.41,329.42 L396.85,329.48 L397.30,329.54 L397.75,329.60 L398.20,329.66 L398.65,329.72 L399.09,329.78 L399.54,329.83 L399.99,329.89 L400.44,329.94 L400.89,330.00 L401.33,330.06 L401.78,330.11 L402.23,330.16 L402.68,330.22 L403.12,330.27 L403.57,330.32 L404.02,330.37 L404.47,330.43 L404.92,330.48 L405.36,330.53 L405.81,330.58 L406.26,330.63 L406.71,330.67 L407.16,330.72 L407.60,330.77 L408.05,330.82 L408.50,330.87 L408.95,330.91 L409.40,330.96 L409.84,331.00 L410.29,331.05 L410.74,331.10 L411.19,331.14 L411.64,331.18 L412.08,331.23 L412.53,331.27 L412.98,331.31 L413.43,331.36 L413.88,331.40 L414.32,331.44 L414.77,331.48 L415.22,331.52 L415.67,331.56 L416.11,331.60 L416.56,331.64 L417.01,331.68 L417.46,331.72 L417.91,331.76 L418.35,331.80 L418.80,331.84 L419.25,331.88 L419.70,331.92 L420.15,331.95 L420.59,331.99 L421.04,332.03 L421.49,332.06 L421.94,332.10 L422.39,332.13 L422.83,332.17 L423.28,332.21 L423.73,332.24 L424.18,332.28 L424.62,332.31 L425.07,332.34 L425.52,332.38 L425.97,332.41 L426.42,332.44 L426.86,332.48 L427.31,332.51 L427.76,332.54 L428.21,332.57 L428.66,332.61 L429.10,332.64 L429.55,332.67 L430.00,332.70 L430.45,332.73 L430.90,332.76 L431.34,332.79 L431.79,332.82 L432.24,332.85 L432.69,332.88 L433.14,332.91 L433.58,332.94 L434.03,332.97 L434.48,333.00 L434.93,333.03 L435.38,333.06 L435.82,333.08 L436.27,333.11 L436.72,333.14 L437.17,333.17 L437.61,333.19 L438.06,333.22 L438.51,333.25 L438.96,333.27 L439.41,333.30 L439.85,333.33 L440.30,333.35 L440.75,333.38 L441.20,333.41 L441.65,333.43 L442.09,333.46 L442.54,333.48 L442.99,333.51 L443.44,333.53 L443.89,333.56 L444.33,333.58 L444.78,333.60 L445.23,333.63 L445.68,333.65 L446.13,333.68 L446.57,333.70 L447.02,333.72 L447.47,333.75 L447.92,333.77 L448.36,333.79 L448.81,333.81 L449.26,333.84 L449.71,333.86 L450.16,333.88 L450.60,333.90 L451.05,333.92 L451.50,333.95 L451.95,333.97 L452.40,333.99 L452.84,334.01 L453.29,334.03 L453.74,334.05 L454.19,334.07 L454.64,334.09 L455.08,334.12 L455.53,334.14 L455.98,334.16 L456.43,334.18 L456.88,334.20 L457.32,334.22 L457.77,334.24 L458.22,334.26 L458.67,334.27 L459.11,334.29 L459.56,334.31 L460.01,334.33 L460.46,334.35 L460.91,334.37 L461.35,334.39 L461.80,334.41 L462.25,334.43 L462.70,334.44 L463.15,334.46 L463.59,334.48 L464.04,334.50 L464.49,334.52 L464.94,334.53 L465.39,334.55 L465.83,334.57 L466.28,334.59 L466.73,334.60 L467.18,334.62 L467.63,334.64 L468.07,334.66 L468.52,334.67 L468.97,334.69 L469.42,334.71 L469.86,334.72 L470.31,334.74 L470.76,334.76 L471.21,334.77 L471.66,334.79 L472.10,334.80 L472.55,334.82 L473.00,334.84 L473.45,334.85 L473.90,334.87 L474.34,334.88 L474.79,334.90 L475.24,334.91 L475.69,334.93 L476.14,334.94 L476.58,334.96 L477.03,334.97 L477.48,334.99 L477.93,335.00 L478.38,335.02 L478.82,335.03 L479.27,335.05 L479.72,335.06 L480.17,335.08 L480.61,335.09 L481.06,335.10 L481.51,335.12 L481.96,335.13 L482.41,335.15 L482.85,335.16 L483.30,335.17 L483.75,335.19 L484.20,335.20 L484.65,335.22 L485.09,335.23 L485.54,335.24 L485.99,335.26 L486.44,335.27 L486.89,335.28 L487.33,335.30 L487.78,335.31 L488.23,335.32 L488.68,335.33 L489.13,335.35 L489.57,335.36 L490.02,335.37 L490.47,335.38 L490.92,335.40 L491.36,335.41 L491.81,335.42 L492.26,335.43 L492.71,335.45 L493.16,335.46 L493.60,335.47 L494.05,335.48 L494.50,335.49 L494.95,335.51 L495.40,335.52 L495.84,335.53 L496.29,335.54 L496.74,335.55 L497.19,335.56 L497.64,335.58 L498.08,335.59 L498.53,335.60 L498.98,335.61 L499.43,335.62 L499.88,335.63 L500.32,335.64 L500.77,335.65 L501.22,335.67 L501.67,335.68 L502.11,335.69 L502.56,335.70 L503.01,335.71 L503.46,335.72 L503.91,335.73 L504.35,335.74 L504.80,335.75 L505.25,335.76 L505.70,335.77 L506.15,335.78 L506.59,335.79 L507.04,335.80 L507.49,335.81 L507.94,335.82 L508.39,335.83 L508.83,335.84 L509.28,335.85 L509.73,335.86 L510.18,335.87 L510.63,335.88 L511.07,335.89 L511.52,335.90 L511.97,335.91 L512.42,335.92 L512.86,335.93 L513.31,335.94 L513.76,335.95 L514.21,335.96 L514.66,335.97 L515.10,335.98 L515.55,335.99 L516.00,336.00 L516.45,336.01 L516.90,336.02 L517.34,336.03 L517.79,336.03 L518.24,336.04 L518.69,336.05 L519.14,336.06 L519.58,336.07 L520.03,336.08 L520.48,336.09 L520.93,336.10 L521.38,336.11 L521.82,336.11 L522.27,336.12 L522.72,336.13 L523.17,336.14 L523.61,336.15 L524.06,336.16 L524.51,336.17 L524.96,336.17 L525.41,336.18 L525.85,336.19 L526.30,336.20 L526.75,336.21 L527.20,336.22 L527.65,336.22 L528.09,336.23 L528.54,336.24 L528.99,336.25 L529.44,336.26 L529.89,336.26 L530.33,336.27 L530.78,336.28 L531.23,336.29 L531.68,336.29 L532.13,336.30 L532.57,336.31 L533.02,336.32 L533.47,336.33 L533.92,336.33 L534.36,336.34 L534.81,336.35 L535.26,336.36 L535.71,336.36 L536.16,336.37 L536.60,336.38 L537.05,336.39 L537.50,336.39 L537.95,336.40 L538.40,336.41 L538.84,336.41 L539.29,336.42 L539.74,336.43 L540.19,336.44 L540.64,336.44 L541.08,336.45 L541.53,336.46 L541.98,336.46 L542.43,336.47 L542.88,336.48 L543.32,336.49 L543.77,336.49 L544.22,336.50 L544.67,336.51 L545.11,336.51 L545.56,336.52 L546.01,336.53 L546.46,336.53 L546.91,336.54 L547.35,336.55 L547.80,336.55 L548.25,336.56 L548.70,336.57 L549.15,336.57 L549.59,336.58 L550.04,336.59 L550.49,336.59 L550.94,336.60 L551.39,336.60 L551.83,336.61 L552.28,336.62 L552.73,336.62 L553.18,336.63 L553.62,336.64 L554.07,336.64 L554.52,336.65 L554.97,336.65 L555.42,336.66 L555.86,336.67 L556.31,336.67 L556.76,336.68 L557.21,336.68 L557.66,336.69 L558.10,336.70 L558.55,336.70 L559.00,336.71 L559.45,336.71 L559.90,336.72 L560.34,336.73 L560.79,336.73 L561.24,336.74 L561.69,336.74 L562.14,336.75 L562.58,336.76 L563.03,336.76 L563.48,336.77 L563.93,336.77 L564.38,336.78 L564.82,336.78 L565.27,336.79 L565.72,336.79 L566.17,336.80 L566.61,336.81 L567.06,336.81 L567.51,336.82 L567.96,336.82 L568.41,336.83 L568.85,336.83 L569.30,336.84 L569.75,336.84 L570.20,336.85 L570.65,336.85 L571.09,336.86 L571.54,336.87 L571.99,336.87 L572.44,336.88 L572.89,336.88 L573.33,336.89 L573.78,336.89 L574.23,336.90 L574.68,336.90 L575.12,336.91 L575.57,336.91 L576.02,336.92 L576.47,336.92 L576.92,336.93 L577.36,336.93 L577.81,336.94 L578.26,336.94 L578.71,336.95 L579.16,336.95 L579.60,336.96 L580.05,336.96 L580.50,336.97 L580.95,336.97 L581.40,336.98 L581.84,336.98 L582.29,336.99 L582.74,336.99 L583.19,337.00 L583.64,337.00 L584.08,337.00 L584.53,337.01 L584.98,337.01 L585.43,337.02 L585.88,337.02 L586.32,337.03 L586.77,337.03 L587.22,337.04 L587.67,337.04 L588.11,337.05 L588.56,337.05 L589.01,337.06 L589.46,337.06 L589.91,337.06 L590.35,337.07 L590.80,337.07 L591.25,337.08 L591.70,337.08 L592.15,337.09 L592.59,337.09 L593.04,337.10 L593.49,337.10 L593.94,337.10 L594.39,337.11 L594.83,337.11 L595.28,337.12 L595.73,337.12 L596.18,337.13 L596.62,337.13 L597.07,337.13 L597.52,337.14 L597.97,337.14 L598.42,337.15 L598.86,337.15 L599.31,337.15 L599.76,337.16 L600.21,337.16 L600.66,337.17 L601.10,337.17 L601.55,337.18 L602.00,337.18 L602.45,337.18 L602.90,337.19 L603.34,337.19 L603.79,337.20 L604.24,337.20 L604.69,337.20 L605.14,337.21 L605.58,337.21 L606.03,337.22 L606.48,337.22 L606.93,337.22 L607.38,337.23 L607.82,337.23 L608.27,337.23 L608.72,337.24 L609.17,337.24 L609.61,337.25 L610.06,337.25 L610.51,337.25 L610.96,337.26 L611.41,337.26 L611.85,337.27 L612.30,337.27 L612.75,337.27" fill="none" stroke="#0000ff" stroke-width="1.4" stroke-linejoin="round" stroke-linecap="square"/>
<path d="M75.25,339.00 L75.70,339.00 L76.15,339.00 L76.59,339.00 L77.04,339.00 L77.49,339.00 L77.94,339.00 L78.39,339.00 L78.83,339.00 L79.28,339.00 L79.73,339.00 L80.18,339.00 L80.62,339.00 L81.07,339.00 L81.52,339.00 L81.97,339.00 L82.42,339.00 L82.86,339.00 L83.31,339.00 L83.76,339.00 L84.21,339.00 L84.66,339.00 L85.10,339.00 L85.55,339.00 L86.00,339.00 L86.45,339.00 L86.90,339.00 L87.34,339.00 L87.79,339.00 L88.24,339.00 L88.69,339.00 L89.14,339.00 L89.58,339.00 L90.03,339.00 L90.48,339.00 L90.93,339.00 L91.38,339.00 L91.82,339.00 L92.27,339.00 L92.72,339.00 L93.17,339.00 L93.61,339.00 L94.06,339.00 L94.51,339.00 L94.96,339.00 L95.41,339.00 L95.85,339.00 L96.30,339.00 L96.75,339.00 L97.20,339.00 L97.65,339.00 L98.09,339.00 L98.54,339.00 L98.99,339.00 L99.44,339.00 L99.89,339.00 L100.33,339.00 L100.78,339.00 L101.23,339.00 L101.68,339.00 L102.13,339.00 L102.57,339.00 L103.02,339.00 L103.47,339.00 L103.92,339.00 L104.36,339.00 L104.81,339.00 L105.26,339.00 L105.71,339.00 L106.16,339.00 L106.60,339.00 L107.05,339.00 L107.50,339.00 L107.95,339.00 L108.40,339.00 L108.84,339.00 L109.29,339.00 L109.74,339.00 L110.19,339.00 L110.64,339.00 L111.08,339.00 L111.53,339.00 L111.98,339.00 L112.43,339.00 L112.87,339.00 L113.32,339.00 L113.77,339.00 L114.22,339.00 L114.67,339.00 L115.11,339.00 L115.56,339.00 L116.01,339.00 L116.46,339.00 L116.91,339.00 L117.35,339.00 L117.80,339.00 L118.25,339.00 L118.70,339.00 L119.15,339.00 L119.59,339.00 L120.04,339.00 L120.49,339.00 L120.94,339.00 L121.39,339.00 L121.48,339.00 L121.66,339.00 L121.83,339.00 L121.84,339.00 L122.02,339.00 L122.20,339.00 L122.28,339.00 L122.39,339.00 L122.57,339.00 L122.73,339.00 L122.75,339.00 L122.93,339.00 L123.11,339.00 L123.18,339.00 L123.30,339.00 L123.48,339.00 L123.62,339.00 L123.66,339.00 L123.84,339.00 L124.03,339.00 L124.07,339.00 L124.21,339.00 L124.39,339.00 L124.52,339.00 L124.57,339.00 L124.75,339.00 L124.94,339.00 L124.97,339.00 L125.12,339.00 L125.30,339.00 L125.42,339.00 L125.48,339.00 L125.67,339.00 L125.85,339.00 L125.86,339.00 L126.03,339.00 L126.21,339.00 L126.31,339.00 L126.39,339.00 L126.58,339.00 L126.76,339.00 L126.76,339.00 L126.94,339.00 L127.12,339.00 L127.21,339.00 L127.31,339.00 L127.49,339.00 L127.66,339.00 L127.67,339.00 L127.85,339.00 L128.03,339.00 L128.10,339.00 L128.22,339.00 L128.40,339.00 L128.55,339.00 L128.58,339.00 L128.76,339.00 L128.95,339.00 L129.00,339.00 L129.13,339.00 L129.31,339.00 L129.45,339.00 L129.49,339.00 L129.67,339.00 L129.86,339.00 L129.90,339.00 L130.04,339.00 L130.22,339.00 L130.34,339.00 L130.40,339.00 L130.59,339.00 L130.77,339.00 L130.79,339.00 L130.95,339.00 L131.13,339.00 L131.24,339.00 L131.31,339.00 L131.50,339.00 L131.68,339.00 L131.69,339.00 L131.86,339.00 L132.04,339.00 L132.14,339.00 L132.23,339.00 L132.58,339.00 L133.03,339.00 L133.48,339.00 L133.93,339.00 L134.38,339.00 L134.82,339.00 L135.27,339.00 L135.72,339.00 L136.17,339.00 L136.61,339.00 L137.06,339.00 L137.51,339.00 L137.96,339.00 L138.41,339.00 L138.85,339.00 L139.30,339.00 L139.75,339.00 L140.20,339.00 L140.65,339.00 L141.09,339.00 L141.54,339.00 L141.99,339.00 L142.44,339.00 L142.89,339.00 L143.33,339.00 L143.78,339.00 L144.23,339.00 L144.68,339.00 L145.12,339.00 L145.57,339.00 L146.02,339.00 L146.47,339.00 L146.92,339.00 L147.36,339.00 L147.81,339.00 L148.26,339.00 L148.71,339.00 L149.16,339.00 L149.60,339.00 L150.05,339.00 L150.50,339.00 L150.95,339.00 L151.40,339.00 L151.84,339.00 L152.29,339.00 L152.74,339.00 L153.19,339.00 L153.64,339.00 L154.08,339.00 L154.53,339.00 L154.98,339.00 L155.43,339.00 L155.88,339.00 L156.32,339.00 L156.77,339.00 L157.22,339.00 L157.67,339.00 L158.11,339.00 L158.56,339.00 L159.01,339.00 L159.46,339.00 L159.91,339.00 L160.35,339.00 L160.80,339.00 L161.25,339.00 L161.70,339.00 L162.15,339.00 L162.59,339.00 L163.04,339.00 L163.49,339.00 L163.94,339.00 L164.39,339.00 L164.83,339.00 L165.28,339.00 L165.73,339.00 L166.18,339.00 L166.63,339.00 L167.07,339.00 L167.52,339.00 L167.97,339.00 L168.42,339.00 L168.86,339.00 L169.31,339.00 L169.76,339.00 L170.21,339.00 L170.66,339.00 L171.10,339.00 L171.55,339.00 L172.00,339.00 L172.45,339.00 L172.90,339.00 L173.34,339.00 L173.79,339.00 L174.24,339.00 L174.69,339.00 L175.14,339.00 L175.58,339.00 L176.03,339.00 L176.48,339.00 L176.93,339.00 L177.38,339.00 L177.82,339.00 L178.27,339.00 L178.72,339.00 L179.17,339.00 L179.61,339.00 L180.06,339.00 L180.51,339.00 L180.96,339.00 L181.41,339.00 L181.85,339.00 L182.30,339.00 L182.75,339.00 L183.20,339.00 L183.65,339.00 L184.09,339.00 L184.54,339.00 L184.99,339.00 L185.44,339.00 L185.89,339.00 L186.33,339.00 L186.78,339.00 L187.23,339.00 L187.68,339.00 L188.13,339.00 L188.57,339.00 L189.02,339.00 L189.47,339.00 L189.92,339.00 L190.36,339.00 L190.81,339.00 L191.26,339.00 L191.71,339.00 L192.16,339.00 L192.60,339.00 L193.05,339.00 L193.50,339.00 L193.95,339.00 L194.40,339.00 L194.84,339.00 L195.29,339.00 L195.74,339.00 L196.19,339.00 L196.64,339.00 L197.08,339.00 L197.53,339.00 L197.98,339.00 L198.43,339.00 L198.88,339.00 L199.32,339.00 L199.77,339.00 L200.22,339.00 L200.67,339.00 L201.11,339.00 L201.56,339.00 L202.01,339.00 L202.46,339.00 L202.91,339.00 L203.35,339.00 L203.80,339.00 L204.25,339.00 L204.70,339.00 L205.15,339.00 L205.59,339.00 L206.04,339.00 L206.49,339.00 L206.94,339.00 L207.39,339.00 L207.83,339.00 L208.28,339.00 L208.73,339.00 L209.18,339.00 L209.62,339.00 L210.07,339.00 L210.52,339.00 L210.97,339.00 L211.42,339.00 L211.86,339.00 L212.31,339.00 L212.76,339.00 L213.21,339.00 L213.66,339.00 L214.10,339.00 L214.55,339.00 L215.00,339.00 L215.45,339.00 L215.90,339.00 L216.34,339.00 L216.79,339.00 L217.24,339.00 L217.69,339.00 L218.14,339.00 L218.58,339.00 L219.03,339.00 L219.48,339.00 L219.93,339.00 L220.38,339.00 L220.82,339.00 L221.27,339.00 L221.72,339.00 L222.17,339.00 L222.61,339.00 L223.06,339.00 L223.51,339.00 L223.96,339.00 L224.41,339.00 L224.85,339.00 L225.30,339.00 L225.75,339.00 L226.20,339.00 L226.65,339.00 L227.09,339.00 L227.54,339.00 L227.99,339.00 L228.44,339.00 L228.89,339.00 L229.33,339.00 L229.78,339.00 L230.23,339.00 L230.68,339.00 L231.13,339.00 L231.57,339.00 L232.02,339.00 L232.47,339.00 L232.92,339.00 L233.36,339.00 L233.81,339.00 L234.26,339.00 L234.71,339.00 L235.16,339.00 L235.60,339.00 L236.05,339.00 L236.50,339.00 L236.95,339.00 L237.40,339.00 L237.84,339.00 L238.29,339.00 L238.74,339.00 L239.19,339.00 L239.64,339.00 L240.08,339.00 L240.53,339.00 L240.98,339.00 L241.43,339.00 L241.87,339.00 L242.32,339.00 L242.77,339.00 L243.22,339.00 L243.67,339.00 L244.11,339.00 L244.56,339.00 L245.01,339.00 L245.46,339.00 L245.91,339.00 L246.35,339.00 L246.80,339.00 L247.25,339.00 L247.70,339.00 L248.15,339.00 L248.59,339.00 L249.04,339.00 L249.49,339.00 L249.94,339.00 L250.39,339.00 L250.83,339.00 L251.28,339.00 L251.73,339.00 L252.18,339.00 L252.62,339.00 L253.07,339.00 L253.52,339.00 L253.97,339.00 L254.42,339.00 L254.86,339.00 L255.31,339.00 L255.76,339.00 L256.21,339.00 L256.66,339.00 L257.10,339.00 L257.55,339.00 L258.00,339.00 L258.45,339.00 L258.90,339.00 L259.34,339.00 L259.79,339.00 L260.24,339.00 L260.69,339.00 L261.14,339.00 L261.58,339.00 L262.03,339.00 L262.48,339.00 L262.93,339.00 L263.38,339.00 L263.82,339.00 L264.27,339.00 L264.72,339.00 L265.17,339.00 L265.61,339.00 L266.06,339.00 L266.51,339.00 L266.96,339.00 L267.41,339.00 L267.85,339.00 L268.30,339.00 L268.75,339.00 L269.20,339.00 L269.65,339.00 L270.09,339.00 L270.54,339.00 L270.99,339.00 L271.44,339.00 L271.89,339.00 L272.33,339.00 L272.78,339.00 L273.23,339.00 L273.68,339.00 L274.12,339.00 L274.57,339.00 L275.02,339.00 L275.47,339.00 L275.92,339.00 L276.36,339.00 L276.81,339.00 L277.26,339.00 L277.71,339.00 L278.16,339.00 L278.60,339.00 L279.05,339.00 L279.50,339.00 L279.95,339.00 L280.40,339.00 L280.84,339.00 L281.29,339.00 L281.74,339.00 L282.19,339.00 L282.64,339.00 L283.08,339.00 L283.45,339.00 L283.50,336.16 L283.53,335.55 L283.56,335.02 L283.61,334.16 L283.67,333.45 L283.72,332.82 L283.77,332.27 L283.83,331.76 L283.88,331.30 L283.94,330.87 L283.98,330.55 L283.99,330.47 L284.04,330.09 L284.10,329.73 L284.15,329.39 L284.21,329.06 L284.26,328.75 L284.31,328.46 L284.37,328.17 L284.42,327.90 L284.43,327.88 L284.48,327.63 L284.53,327.38 L284.59,327.13 L284.64,326.89 L284.69,326.66 L284.75,326.44 L284.80,326.22 L284.86,326.01 L284.88,325.94 L284.91,325.81 L284.96,325.61 L285.02,325.42 L285.07,325.23 L285.13,325.05 L285.18,324.87 L285.23,324.70 L285.29,324.53 L285.32,324.42 L285.34,324.36 L285.40,324.20 L285.45,324.04 L285.50,323.89 L285.56,323.74 L285.61,323.59 L285.67,323.45 L285.72,323.31 L285.77,323.18 L285.77,323.17 L285.83,323.04 L285.88,322.90 L285.94,322.78 L285.99,322.65 L286.04,322.53 L286.10,322.41 L286.15,322.29 L286.21,322.17 L286.22,322.15 L286.26,322.06 L286.31,321.95 L286.37,321.84 L286.42,321.73 L286.48,321.63 L286.53,321.53 L286.58,321.43 L286.64,321.33 L286.67,321.28 L286.69,321.23 L286.75,321.14 L286.80,321.05 L286.85,320.96 L286.91,320.87 L286.96,320.78 L287.02,320.70 L287.07,320.61 L287.11,320.55 L287.12,320.53 L287.18,320.45 L287.23,320.37 L287.29,320.30 L287.34,320.22 L287.39,320.15 L287.45,320.07 L287.50,320.00 L287.56,319.93 L287.56,319.93 L287.61,319.87 L287.66,319.80 L287.72,319.73 L287.77,319.67 L287.83,319.61 L287.88,319.55 L287.93,319.48 L287.99,319.43 L288.01,319.40 L288.04,319.37 L288.10,319.31 L288.15,319.26 L288.20,319.20 L288.26,319.15 L288.31,319.10 L288.37,319.05 L288.42,319.00 L288.46,318.96 L288.47,318.95 L288.53,318.90 L288.58,318.85 L288.64,318.81 L288.69,318.76 L288.74,318.72 L288.80,318.68 L288.85,318.63 L288.91,318.59 L288.91,318.59 L288.96,318.55 L289.01,318.51 L289.07,318.48 L289.12,318.44 L289.18,318.40 L289.23,318.37 L289.28,318.33 L289.34,318.30 L289.35,318.29 L289.39,318.27 L289.45,318.23 L289.50,318.20 L289.55,318.17 L289.61,318.14 L289.66,318.11 L289.72,318.09 L289.77,318.06 L289.80,318.04 L289.82,318.03 L289.88,318.01 L289.93,317.98 L289.99,317.96 L290.04,317.93 L290.10,317.91 L290.15,317.89 L290.20,317.87 L290.25,317.85 L290.26,317.84 L290.31,317.82 L290.37,317.80 L290.42,317.78 L290.47,317.77 L290.53,317.75 L290.58,317.73 L290.64,317.71 L290.69,317.70 L290.70,317.70 L290.74,317.68 L290.80,317.67 L290.85,317.65 L290.91,317.64 L290.96,317.63 L291.01,317.62 L291.07,317.60 L291.12,317.59 L291.15,317.59 L291.18,317.58 L291.23,317.57 L291.28,317.56 L291.34,317.55 L291.39,317.54 L291.45,317.53 L291.50,317.53 L291.55,317.52 L291.59,317.51 L291.61,317.51 L291.66,317.51 L291.72,317.50 L291.77,317.49 L291.82,317.49 L291.88,317.48 L291.93,317.48 L291.99,317.48 L292.04,317.47 L292.04,317.47 L292.09,317.47 L292.15,317.47 L292.20,317.47 L292.26,317.46 L292.31,317.46 L292.36,317.46 L292.42,317.46 L292.47,317.46 L292.49,317.46 L292.53,317.46 L292.58,317.46 L292.63,317.46 L292.69,317.47 L292.74,317.47 L292.80,317.47 L292.85,317.47 L292.90,317.48 L292.94,317.48 L292.96,317.48 L293.01,317.48 L293.07,317.49 L293.12,317.49 L293.17,317.50 L293.23,317.50 L293.28,317.51 L293.34,317.51 L293.39,317.52 L293.39,317.52 L293.44,317.52 L293.50,317.53 L293.55,317.54 L293.61,317.54 L293.66,317.55 L293.71,317.56 L293.77,317.57 L293.82,317.58 L293.83,317.58 L293.88,317.58 L293.93,317.59 L293.98,317.60 L294.04,317.61 L294.09,317.62 L294.15,317.63 L294.20,317.64 L294.28,317.66 L294.73,317.75 L295.18,317.86 L295.62,317.99 L296.07,318.13 L296.52,318.28 L296.97,318.43 L297.42,318.60 L297.86,318.77 L298.31,318.95 L298.76,319.13 L299.21,319.32 L299.66,319.52 L300.10,319.71 L300.55,319.91 L301.00,320.11 L301.45,320.31 L301.90,320.51 L302.34,320.72 L302.79,320.92 L303.24,321.13 L303.69,321.33 L304.14,321.53 L304.58,321.73 L305.03,321.94 L305.48,322.13 L305.93,322.33 L306.38,322.53 L306.82,322.73 L307.27,322.92 L307.72,323.11 L308.17,323.30 L308.61,323.49 L309.06,323.67 L309.51,323.86 L309.96,324.04 L310.41,324.22 L310.85,324.39 L311.30,324.57 L311.75,324.74 L312.20,324.91 L312.65,325.08 L313.09,325.24 L313.54,325.40 L313.99,325.56 L314.44,325.72 L314.89,325.88 L315.33,326.03 L315.78,326.18 L316.23,326.33 L316.68,326.48 L317.12,326.62 L317.57,326.76 L318.02,326.90 L318.47,327.04 L318.92,327.18 L319.36,327.31 L319.81,327.44 L320.26,327.57 L320.71,327.70 L321.16,327.82 L321.60,327.95 L322.05,328.07 L322.50,328.19 L322.95,328.30 L323.40,328.42 L323.84,328.53 L324.29,328.65 L324.74,328.76 L325.19,328.87 L325.64,328.97 L326.08,329.08 L326.53,329.18 L326.98,329.28 L327.43,329.38 L327.88,329.48 L328.32,329.58 L328.77,329.68 L329.22,329.77 L329.67,329.87 L330.11,329.96 L330.56,330.05 L331.01,330.14 L331.46,330.22 L331.91,330.31 L332.35,330.40 L332.80,330.48 L333.25,330.56 L333.70,330.64 L334.15,330.72 L334.59,330.80 L335.04,330.88 L335.49,330.96 L335.94,331.03 L336.39,331.11 L336.83,331.18 L337.28,331.25 L337.73,331.32 L338.18,331.39 L338.63,331.46 L339.07,331.53 L339.52,331.60 L339.97,331.66 L340.42,331.73 L340.86,331.79 L341.31,331.86 L341.76,331.92 L342.21,331.98 L342.66,332.04 L343.10,332.10 L343.55,332.16 L344.00,332.22 L344.45,332.28 L344.90,332.33 L345.34,332.39 L345.79,332.45 L346.24,332.50 L346.69,332.55 L347.14,332.61 L347.58,332.66 L348.03,332.71 L348.48,332.76 L348.93,332.81 L349.37,332.86 L349.82,332.91 L350.27,332.96 L350.72,333.01 L351.17,333.06 L351.61,333.10 L352.06,333.15 L352.51,333.20 L352.96,333.24 L353.41,333.29 L353.85,333.33 L354.30,333.37 L354.75,333.42 L355.20,333.46 L355.65,333.50 L356.09,333.54 L356.54,333.58 L356.99,333.62 L357.44,333.66 L357.89,333.70 L358.33,333.74 L358.78,333.78 L359.23,333.82 L359.68,333.85 L360.12,333.89 L360.57,333.93 L361.02,333.96 L361.47,334.00 L361.92,334.03 L362.36,334.07 L362.81,334.10 L363.26,334.14 L363.71,334.17 L364.16,334.21 L364.60,334.24 L365.05,334.27 L365.50,334.30 L365.95,334.34 L366.40,334.37 L366.84,334.40 L367.29,334.43 L367.74,334.46 L368.19,334.49 L368.64,334.52 L369.08,334.55 L369.53,334.58 L369.98,334.61 L370.43,334.64 L370.87,334.66 L371.32,334.69 L371.77,334.72 L372.22,334.75 L372.67,334.77 L373.11,334.80 L373.56,334.83 L374.01,334.85 L374.46,334.88 L374.91,334.91 L375.35,334.93 L375.80,334.96 L376.25,334.98 L376.70,335.01 L377.15,335.03 L377.59,335.06 L378.04,335.08 L378.49,335.10 L378.94,335.13 L379.39,335.15 L379.83,335.17 L380.28,335.20 L380.73,335.22 L381.18,335.24 L381.62,335.26 L382.07,335.29 L382.52,335.31 L382.97,335.33 L383.42,335.35 L383.86,335.37 L384.31,335.39 L384.76,335.41 L385.21,335.43 L385.66,335.45 L386.10,335.47 L386.55,335.49 L387.00,335.51 L387.45,335.53 L387.90,335.55 L388.34,335.57 L388.79,335.59 L389.24,335.61 L389.69,335.63 L390.14,335.65 L390.58,335.67 L391.03,335.68 L391.48,335.70 L391.93,335.72 L392.38,335.74 L392.82,335.75 L393.27,335.77 L393.72,335.79 L394.17,335.81 L394.61,335.82 L395.06,335.84 L395.51,335.86 L395.96,335.87 L396.41,335.89 L396.85,335.91 L397.30,335.92 L397.75,335.94 L398.20,335.95 L398.65,335.97 L399.09,335.98 L399.54,336.00 L399.99,336.02 L400.44,336.03 L400.89,336.05 L401.33,336.06 L401.78,336.08 L402.23,336.09 L402.68,336.10 L403.12,336.12 L403.57,336.13 L404.02,336.15 L404.47,336.16 L404.92,336.17 L405.36,336.19 L405.81,336.20 L406.26,336.22 L406.71,336.23 L407.16,336.24 L407.60,336.26 L408.05,336.27 L408.50,336.28 L408.95,336.30 L409.40,336.31 L409.84,336.32 L410.29,336.33 L410.74,336.35 L411.19,336.36 L411.64,336.37 L412.08,336.38 L412.53,336.40 L412.98,336.41 L413.43,336.42 L413.88,336.43 L414.32,336.44 L414.77,336.45 L415.22,336.47 L415.67,336.48 L416.11,336.49 L416.56,336.50 L417.01,336.51 L417.46,336.52 L417.91,336.53 L418.35,336.55 L418.80,336.56 L419.25,336.57 L419.70,336.58 L420.15,336.59 L420.59,336.60 L421.04,336.61 L421.49,336.62 L421.94,336.63 L422.39,336.64 L422.83,336.65 L423.28,336.66 L423.73,336.67 L424.18,336.68 L424.62,336.69 L425.07,336.70 L425.52,336.71 L425.97,336.72 L426.42,336.73 L426.86,336.74 L427.31,336.75 L427.76,336.76 L428.21,336.77 L428.66,336.78 L429.10,336.79 L429.55,336.80 L430.00,336.81 L430.45,336.81 L430.90,336.82 L431.34,336.83 L431.79,336.84 L432.24,336.85 L432.69,336.86 L433.14,336.87 L433.58,336.88 L434.03,336.89 L434.48,336.89 L434.93,336.90 L435.38,336.91 L435.82,336.92 L436.27,336.93 L436.72,336.94 L437.17,336.94 L437.61,336.95 L438.06,336.96 L438.51,336.97 L438.96,336.98 L439.41,336.98 L439.85,336.99 L440.30,337.00 L440.75,337.01 L441.20,337.02 L441.65,337.02 L442.09,337.03 L442.54,337.04 L442.99,337.05 L443.44,337.05 L443.89,337.06 L444.33,337.07 L444.78,337.08 L445.23,337.08 L445.68,337.09 L446.13,337.10 L446.57,337.10 L447.02,337.11 L447.47,337.12 L447.92,337.13 L448.36,337.13 L448.81,337.14 L449.26,337.15 L449.71,337.15 L450.16,337.16 L450.60,337.17 L451.05,337.17 L451.50,337.18 L451.95,337.19 L452.40,337.19 L452.84,337.20 L453.29,337.21 L453.74,337.21 L454.19,337.22 L454.64,337.23 L455.08,337.23 L455.53,337.24 L455.98,337.24 L456.43,337.25 L456.88,337.26 L457.32,337.26 L457.77,337.27 L458.22,337.28 L458.67,337.28 L459.11,337.29 L459.56,337.29 L460.01,337.30 L460.46,337.31 L460.91,337.31 L461.35,337.32 L461.80,337.32 L462.25,337.33 L462.70,337.33 L463.15,337.34 L463.59,337.35 L464.04,337.35 L464.49,337.36 L464.94,337.36 L465.39,337.37 L465.83,337.37 L466.28,337.38 L466.73,337.38 L467.18,337.39 L467.63,337.40 L468.07,337.40 L468.52,337.41 L468.97,337.41 L469.42,337.42 L469.86,337.42 L470.31,337.43 L470.76,337.43 L471.21,337.44 L471.66,337.44 L472.10,337.45 L472.55,337.45 L473.00,337.46 L473.45,337.46 L473.90,337.47 L474.34,337.47 L474.79,337.48 L475.24,337.48 L475.69,337.49 L476.14,337.49 L476.58,337.50 L477.03,337.50 L477.48,337.51 L477.93,337.51 L478.38,337.52 L478.82,337.52 L479.27,337.53 L479.72,337.53 L480.17,337.54 L480.61,337.54 L481.06,337.55 L481.51,337.55 L481.96,337.55 L482.41,337.56 L482.85,337.56 L483.30,337.57 L483.75,337.57 L484.20,337.58 L484.65,337.58 L485.09,337.59 L485.54,337.59 L485.99,337.59 L486.44,337.60 L486.89,337.60 L487.33,337.61 L487.78,337.61 L488.23,337.62 L488.68,337.62 L489.13,337.62 L489.57,337.63 L490.02,337.63 L490.47,337.64 L490.92,337.64 L491.36,337.64 L491.81,337.65 L492.26,337.65 L492.71,337.66 L493.16,337.66 L493.60,337.66 L494.05,337.67 L494.50,337.67 L494.95,337.68 L495.40,337.68 L495.84,337.68 L496.29,337.69 L496.74,337.69 L497.19,337.70 L497.64,337.70 L498.08,337.70 L498.53,337.71 L498.98,337.71 L499.43,337.71 L499.88,337.72 L500.32,337.72 L500.77,337.73 L501.22,337.73 L501.67,337.73 L502.11,337.74 L502.56,337.74 L503.01,337.74 L503.46,337.75 L503.91,337.75 L504.35,337.75 L504.80,337.76 L505.25,337.76 L505.70,337.76 L506.15,337.77 L506.59,337.77 L507.04,337.78 L507.49,337.78 L507.94,337.78 L508.39,337.79 L508.83,337.79 L509.28,337.79 L509.73,337.80 L510.18,337.80 L510.63,337.80 L511.07,337.81 L511.52,337.81 L511.97,337.81 L512.42,337.82 L512.86,337.82 L513.31,337.82 L513.76,337.83 L514.21,337.83 L514.66,337.83 L515.10,337.83 L515.55,337.84 L516.00,337.84 L516.45,337.84 L516.90,337.85 L517.34,337.85 L517.79,337.85 L518.24,337.86 L518.69,337.86 L519.14,337.86 L519.58,337.87 L520.03,337.87 L520.48,337.87 L520.93,337.87 L521.38,337.88 L521.82,337.88 L522.27,337.88 L522.72,337.89 L523.17,337.89 L523.61,337.89 L524.06,337.90 L524.51,337.90 L524.96,337.90 L525.41,337.90 L525.85,337.91 L526.30,337.91 L526.75,337.91 L527.20,337.92 L527.65,337.92 L528.09,337.92 L528.54,337.92 L528.99,337.93 L529.44,337.93 L529.89,337.93 L530.33,337.93 L530.78,337.94 L531.23,337.94 L531.68,337.94 L532.13,337.95 L532.57,337.95 L533.02,337.95 L533.47,337.95 L533.92,337.96 L534.36,337.96 L534.81,337.96 L535.26,337.96 L535.71,337.97 L536.16,337.97 L536.60,337.97 L537.05,337.97 L537.50,337.98 L537.95,337.98 L538.40,337.98 L538.84,337.98 L539.29,337.99 L539.74,337.99 L540.19,337.99 L540.64,337.99 L541.08,338.00 L541.53,338.00 L541.98,338.00 L542.43,338.00 L542.88,338.01 L543.32,338.01 L543.77,338.01 L544.22,338.01 L544.67,338.02 L545.11,338.02 L545.56,338.02 L546.01,338.02 L546.46,338.03 L546.91,338.03 L547.35,338.03 L547.80,338.03 L548.25,338.03 L548.70,338.04 L549.15,338.04 L549.59,338.04 L550.04,338.04 L550.49,338.05 L550.94,338.05 L551.39,338.05 L551.83,338.05 L552.28,338.06 L552.73,338.06 L553.18,338.06 L553.62,338.06 L554.07,338.06 L554.52,338.07 L554.97,338.07 L555.42,338.07 L555.86,338.07 L556.31,338.08 L556.76,338.08 L557.21,338.08 L557.66,338.08 L558.10,338.08 L558.55,338.09 L559.00,338.09 L559.45,338.09 L559.90,338.09 L560.34,338.09 L560.79,338.10 L561.24,338.10 L561.69,338.10 L562.14,338.10 L562.58,338.10 L563.03,338.11 L563.48,338.11 L563.93,338.11 L564.38,338.11 L564.82,338.11 L565.27,338.12 L565.72,338.12 L566.17,338.12 L566.61,338.12 L567.06,338.12 L567.51,338.13 L567.96,338.13 L568.41,338.13 L568.85,338.13 L569.30,338.13 L569.75,338.14 L570.20,338.14 L570.65,338.14 L571.09,338.14 L571.54,338.14 L571.99,338.15 L572.44,338.15 L572.89,338.15 L573.33,338.15 L573.78,338.15 L574.23,338.15 L574.68,338.16 L575.12,338.16 L575.57,338.16 L576.02,338.16 L576.47,338.16 L576.92,338.17 L577.36,338.17 L577.81,338.17 L578.26,338.17 L578.71,338.17 L579.16,338.17 L579.60,338.18 L580.05,338.18 L580.50,338.18 L580.95,338.18 L581.40,338.18 L581.84,338.19 L582.29,338.19 L582.74,338.19 L583.19,338.19 L583.64,338.19 L584.08,338.19 L584.53,338.20 L584.98,338.20 L585.43,338.20 L585.88,338.20 L586.32,338.20 L586.77,338.20 L587.22,338.21 L587.67,338.21 L588.11,338.21 L588.56,338.21 L589.01,338.21 L589.46,338.21 L589.91,338.22 L590.35,338.22 L590.80,338.22 L591.25,338.22 L591.70,338.22 L592.15,338.22 L592.59,338.23 L593.04,338.23 L593.49,338.23 L593.94,338.23 L594.39,338.23 L594.83,338.23 L595.28,338.23 L595.73,338.24 L596.18,338.24 L596.62,338.24 L597.07,338.24 L597.52,338.24 L597.97,338.24 L598.42,338.25 L598.86,338.25 L599.31,338.25 L599.76,338.25 L600.21,338.25 L600.66,338.25 L601.10,338.25 L601.55,338.26 L602.00,338.26 L602.45,338.26 L602.90,338.26 L603.34,338.26 L603.79,338.26 L604.24,338.27 L604.69,338.27 L605.14,338.27 L605.58,338.27 L606.03,338.27 L606.48,338.27 L606.93,338.27 L607.38,338.28 L607.82,338.28 L608.27,338.28 L608.72,338.28 L609.17,338.28 L609.61,338.28 L610.06,338.28 L610.51,338.29 L610.96,338.29 L611.41,338.29 L611.85,338.29 L612.30,338.29 L612.75,338.29" fill="none" stroke="#ff0000" stroke-width="1.4" stroke-linejoin="round" stroke-linecap="square"/>
<line x1="475.9" y1="107.5" x2="496.0" y2="107.5" stroke="#d2d2ff" stroke-width="1"/>
<line x1="475.9" y1="141.5" x2="496.0" y2="141.5" stroke="#cdcdcd" stroke-width="1"/>
<line x1="475.9" y1="176.5" x2="496.0" y2="176.5" stroke="#ffc8c8" stroke-width="1"/>
<line x1="501.7" y1="171.5" x2="508.8" y2="171.5" stroke="#333" stroke-width="0.9"/>
<path d="M324.8,378.3 L326.9,376.9 L329.7,382.3 L333.0,370.1 L342.6,370.1 L342.6,370.9 L333.6,370.9 L329.9,384.7 L328.9,384.7 L325.7,378.5 L325.1,378.9 Z" fill="#111"/>
<g filter="url(#gs)">
<text x="61.3" y="343" text-anchor="end" class="tk">0</text>
<text x="61.3" y="276" text-anchor="end" class="tk">2</text>
<text x="61.3" y="210" text-anchor="end" class="tk">4</text>
<text x="61.3" y="143" text-anchor="end" class="tk">6</text>
<text x="61.3" y="77" text-anchor="end" class="tk">8</text>
<text x="61.3" y="10" text-anchor="end" class="tk">10</text>
<text x="74.90" y="362" text-anchor="middle" class="tk">0.6</text>
<text x="182.42" y="362" text-anchor="middle" class="tk">0.8</text>
<text x="289.94" y="362" text-anchor="middle" class="tk">1.0</text>
<text x="397.46" y="362" text-anchor="middle" class="tk">1.2</text>
<text x="504.98" y="362" text-anchor="middle" class="tk">1.4</text>
<text x="612.50" y="362" text-anchor="middle" class="tk">1.6</text>
<text x="501.5" y="110.8" class="lg"><tspan font-style="italic">ηπ</tspan><tspan dx="3.4">channel</tspan></text>
<text x="501.5" y="144.9" class="lg">Sill</text>
<text x="501.6" y="179.6" class="lg">KK channel</text>
<text y="171.2" class="lb"><tspan x="8.8" font-style="italic">d</tspan><tspan x="15.5" font-style="italic" font-size="8.5" dy="1.7">s</tspan><tspan x="19.2" dy="-1.7">(</tspan><tspan x="23.05">E</tspan><tspan x="31.6">)</tspan></text>
<text y="189.6" class="lb"><tspan x="0.3">(GeV</tspan><tspan x="29.4" font-size="9.5" dy="-4.6">−1</tspan><tspan x="40.4" dy="4.6">)</tspan></text>
<text x="307.5" y="382.9" class="lb">E</text><text class="lb" transform="translate(316.2 384.9) scale(1.1 1)">=</text>
<text x="334.7" y="382.9" class="lb" font-style="italic">s</text>
<text x="347.4" y="382.9" class="lb">(GeV)</text>
</g>
</svg>
</body></html>
